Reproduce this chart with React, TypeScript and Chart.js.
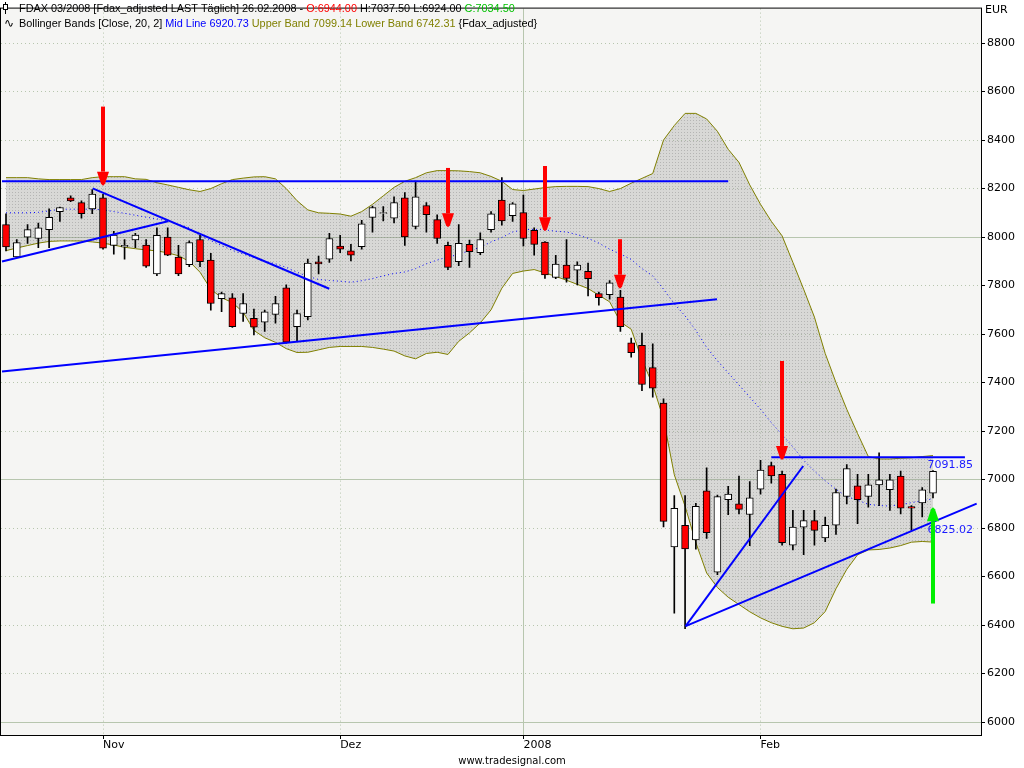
import React, { useEffect, useRef } from 'react';
import Chart from 'chart.js/auto';

// daily FDAX 03/2008 candles, 19.10.2007 .. 26.02.2008 (bar index 0..86)
const opens = [
  8051, 7918, 8000, 7994, 8031, 8105, 8162, 8142, 8116, 8162,
  7966, 7959, 7988, 7967, 7848, 8000, 7918, 7886, 7990, 7905,
  7746, 7749, 7685, 7665, 7649, 7681, 7791, 7631, 7672, 7898,
  7909, 7963, 7943, 7960, 8081, 8097, 8078, 8162, 8044, 8130,
  8072, 7966, 7899, 7970, 7936, 8031, 8153, 8088, 8101, 8028,
  7979, 7834, 7885, 7864, 7859, 7767, 7763, 7753, 7564, 7554,
  7462, 7316, 6722, 6812, 6751, 6954, 6618, 6917, 6900, 6856,
  6961, 7058, 7022, 6730, 6804, 6831, 6760, 6812, 6931, 6974,
  6931, 6978, 6958, 7015, 6889, 6904, 6944,
];
const highs = [
  8096, 7990, 8051, 8058, 8116, 8124, 8170, 8149, 8196, 8176,
  8024, 7990, 8015, 7990, 8038, 8038, 7966, 7984, 8007, 7933,
  7773, 7767, 7767, 7703, 7699, 7756, 7803, 7699, 7909, 7922,
  8015, 8007, 7970, 8069, 8128, 8126, 8166, 8183, 8231, 8142,
  8092, 7979, 8051, 7988, 8017, 8105, 8245, 8142, 8173, 8038,
  7981, 7925, 7990, 7898, 7893, 7773, 7821, 7780, 7584, 7604,
  7560, 7333, 6934, 6934, 6902, 7049, 6936, 6972, 7015, 6992,
  7079, 7072, 7035, 6873, 6873, 6873, 6846, 6961, 7062, 7022,
  7022, 7110, 7022, 7035, 6893, 6967, 7037.5,
];
const lows = [
  7943, 7915, 7974, 7956, 7956, 8065, 8146, 8078, 8096, 7950,
  7929, 7909, 7956, 7875, 7841, 7923, 7841, 7878, 7878, 7699,
  7692, 7627, 7652, 7597, 7611, 7645, 7563, 7570, 7658, 7848,
  7895, 7936, 7902, 7950, 8020, 8067, 8058, 7966, 8034, 8020,
  7974, 7866, 7882, 7875, 7927, 8020, 8049, 8065, 7963, 7925,
  7830, 7828, 7814, 7803, 7757, 7719, 7744, 7611, 7505, 7367,
  7340, 6805, 6449, 6385, 6713, 6758, 6608, 6855, 6859, 6728,
  6940, 6985, 6730, 6710, 6690, 6730, 6744, 6774, 6900, 6818,
  6886, 6893, 6873, 6859, 6791, 6846, 6924,
];
const closes = [
  7959, 7977, 8031, 8038, 8081, 8122, 8149, 8096, 8177, 7954,
  8008, 7966, 8008, 7880, 8007, 7925, 7848, 7977, 7899, 7726,
  7767, 7631, 7726, 7628, 7692, 7726, 7567, 7685, 7893, 7889,
  7994, 7950, 7925, 8055, 8122, 8101, 8142, 8001, 8166, 8092,
  7994, 7875, 7974, 7940, 7990, 8096, 8067, 8137, 7994, 7970,
  7844, 7889, 7830, 7885, 7828, 7750, 7811, 7631, 7523, 7392,
  7377, 6828, 6882, 6714, 6890, 6781, 6930, 6940, 6877, 6925,
  7039, 7015, 6740, 6804, 6831, 6791, 6812, 6947, 7045, 6917,
  6978, 6999, 6999, 6882, 6882, 6958, 7034.5,
];

// Bollinger Bands [Close, 20, 2]
const upperBand = [
  8245, 8245, 8245, 8240, 8237, 8237, 8237, 8237, 8245, 8249,
  8249, 8249, 8240, 8238, 8224, 8215, 8205, 8195, 8188, 8200,
  8220, 8237, 8243, 8248, 8249, 8240, 8200, 8150, 8112, 8100,
  8098, 8095, 8086, 8105, 8135, 8170, 8205, 8230, 8245, 8265,
  8274, 8274, 8273, 8270, 8265, 8250, 8230, 8196, 8192, 8198,
  8204, 8208, 8209, 8209, 8208, 8200, 8188, 8200, 8222, 8242,
  8262, 8400, 8460, 8510, 8510, 8487, 8436, 8362, 8308, 8215,
  8135, 8065, 8005, 7896, 7785, 7670, 7520, 7400, 7290, 7190,
  7095, 7085, 7085, 7088, 7090, 7095, 7099.14,
];
const midLine = [
  8100, 8100, 8100, 8102, 8108, 8115, 8115, 8115, 8115, 8112,
  8105, 8098, 8090, 8082, 8075, 8066, 8052, 8039, 8004, 7985,
  7965, 7945, 7930, 7915, 7900, 7890, 7875, 7855, 7838, 7825,
  7821, 7818, 7814, 7820, 7829, 7840, 7850, 7856, 7870, 7890,
  7905, 7918, 7928, 7945, 7957, 7980, 7998, 8021, 8030, 8032,
  8030, 8024, 8021, 8010, 7995, 7975, 7950, 7930, 7908, 7870,
  7840, 7785, 7725, 7675, 7615, 7545, 7490, 7440, 7390, 7340,
  7290, 7235, 7185, 7135, 7080, 7035, 6995, 6960, 6930, 6915,
  6898, 6893, 6891, 6897, 6905, 6913, 6920.73,
];
const lowerBand = [
  7944, 7955, 7965, 7975, 7982, 7984, 7984, 7984, 7980, 7975,
  7967, 7958, 7952, 7947, 7943, 7935, 7923, 7900, 7855, 7785,
  7750, 7730, 7690, 7615, 7585, 7566, 7540, 7524, 7525, 7535,
  7545, 7549, 7549, 7549, 7545, 7538, 7530, 7510, 7498, 7520,
  7525, 7516, 7570, 7605, 7646, 7700, 7789, 7850, 7860, 7866,
  7852, 7838, 7822, 7805, 7788, 7760, 7733, 7650, 7620, 7495,
  7390, 7250, 7020, 6890, 6740, 6615, 6555, 6515, 6485, 6455,
  6430, 6410, 6395, 6385, 6388, 6410, 6456, 6550, 6630, 6690,
  6710, 6712, 6718, 6728, 6742, 6745, 6742.31,
];

const monthTicks = [9, 31, 48, 70];
const monthLabels = ['Nov', 'Dez', '2008', 'Feb'];
const priceTicks = [6000, 6200, 6400, 6600, 6800, 7000, 7200, 7400, 7600, 7800, 8000, 8200, 8400, 8600, 8800];

// hand drawn trend lines: [bar1, price1, bar2, price2]
const trendLines = [
  [-0.37, 8230, 67.0, 8230],
  [-0.37, 7899, 15.03, 8065],
  [8.04, 8201, 29.99, 7787],
  [-0.37, 7446, 65.96, 7744],
  [71.0, 7091.85, 88.96, 7091.85],
  [63.05, 6396, 73.96, 7056],
  [63.05, 6396, 90.05, 6901],
];
const lineValues = [7091.85, 6825.02];

// arrows: [bar, from price, to price]
const redArrows = [
  [9, 8538, 8212],
  [41, 8285, 8040],
  [50, 8293, 8024],
  [57, 7991, 7787],
  [72, 7489, 7081],
];
const greenArrow = [86, 6489, 6886];

const header1: [string, string][] = [
  ['FDAX 03/2008 [Fdax_adjusted LAST Täglich] 26.02.2008 - ', '#000000'],
  ['O:6944.00', '#ff0000'],
  [' H:7037.50 L:6924.00 ', '#000000'],
  ['C:7034.50', '#00c000'],
];
const header2: [string, string][] = [
  ['Bollinger Bands [Close, 20, 2] ', '#000000'],
  ['Mid Line 6920.73', '#0000ff'],
  [' Upper Band 7099.14 Lower Band 6742.31', '#808000'],
  [' {Fdax_adjusted}', '#000000'],
];

const FONT = '"DejaVu Sans", "Liberation Sans", sans-serif';
const HEAD_FONT = '"Liberation Sans", Arial, sans-serif';

function bandPattern(ctx: CanvasRenderingContext2D) {
  const c = document.createElement('canvas');
  c.width = 3;
  c.height = 3;
  const g = c.getContext('2d')!;
  g.fillStyle = 'rgba(150,150,150,0.30)';
  g.fillRect(0, 0, 3, 3);
  g.fillStyle = 'rgba(100,100,100,0.30)';
  g.fillRect(0, 0, 1, 1);
  return ctx.createPattern(c, 'repeat') || 'rgba(150,150,150,0.3)';
}

function drawArrow(ctx: CanvasRenderingContext2D, x: number, yFrom: number, yTo: number, color: string) {
  const dir = Math.sign(yTo - yFrom);
  const headLen = 14;
  const headW = 6;
  ctx.strokeStyle = color;
  ctx.fillStyle = color;
  ctx.lineWidth = 4;
  ctx.beginPath();
  ctx.moveTo(x, yFrom);
  ctx.lineTo(x, yTo - dir * headLen);
  ctx.stroke();
  ctx.beginPath();
  ctx.moveTo(x - headW, yTo - dir * headLen);
  ctx.lineTo(x + headW, yTo - dir * headLen);
  ctx.lineTo(x + 2, yTo - dir * 2);
  ctx.lineTo(x, yTo);
  ctx.lineTo(x - 2, yTo - dir * 2);
  ctx.closePath();
  ctx.fill();
}

function drawSegments(ctx: CanvasRenderingContext2D, parts: [string, string][], x: number, y: number) {
  let cx = x;
  for (const [text, color] of parts) {
    ctx.fillStyle = color;
    ctx.fillText(text, cx, y);
    cx += ctx.measureText(text).width;
  }
}

const decorPlugin = {
  id: 'decor',
  beforeDraw(chart: any) {
    const { ctx, chartArea: a } = chart;
    ctx.save();
    ctx.fillStyle = '#ffffff';
    ctx.fillRect(0, 0, chart.width, chart.height);
    ctx.fillStyle = '#f5f5f3';
    ctx.fillRect(a.left, a.top, a.right - a.left, a.bottom - a.top);
    ctx.restore();
  },
  afterDatasetsDraw(chart: any) {
    const { ctx } = chart;
    const xs = chart.scales.x;
    const ys = chart.scales.y;
    ctx.save();
    redArrows.forEach(([i, p1, p2]) => {
      drawArrow(ctx, Math.round(xs.getPixelForValue(i)), ys.getPixelForValue(p1), ys.getPixelForValue(p2), '#ff0000');
    });
    ctx.font = `11px ${FONT}`;
    ctx.textAlign = 'right';
    ctx.textBaseline = 'middle';
    ctx.fillStyle = '#1a1aff';
    lineValues.forEach((v) => {
      ctx.fillText(v.toFixed(2), 973, ys.getPixelForValue(v) + 8);
    });
    const [gi, g1, g2] = greenArrow;
    drawArrow(ctx, Math.round(xs.getPixelForValue(gi)), ys.getPixelForValue(g1), ys.getPixelForValue(g2), '#00ee00');
    ctx.restore();
  },
  afterDraw(chart: any) {
    const { ctx, chartArea: a } = chart;
    ctx.save();
    ctx.strokeStyle = '#000000';
    ctx.lineWidth = 1;
    ctx.strokeRect(a.left - 0.5, a.top - 0.5, a.right - a.left + 1, a.bottom - a.top + 1);

    // header
    ctx.font = `11px ${HEAD_FONT}`;
    const w1 = header1.reduce((s, [t]) => s + ctx.measureText(t).width, 0);
    const size = (11 * 496) / w1;
    ctx.font = `${size.toFixed(2)}px ${HEAD_FONT}`;
    ctx.textAlign = 'left';
    ctx.textBaseline = 'alphabetic';
    drawSegments(ctx, header1, 19, 11.5);
    drawSegments(ctx, header2, 19, 26.5);
    ctx.fillStyle = '#000';
    ctx.font = `12px ${FONT}`;
    ctx.fillText('∿', 4, 26.5);
    // candle icon
    ctx.strokeStyle = '#000';
    ctx.beginPath();
    ctx.moveTo(5.5, 2);
    ctx.lineTo(5.5, 14);
    ctx.stroke();
    ctx.fillStyle = '#ffffff';
    ctx.fillRect(3, 5, 5, 5);
    ctx.strokeRect(3.5, 4.5, 4, 5);

    ctx.font = `11px ${FONT}`;
    ctx.fillStyle = '#000';
    ctx.textBaseline = 'middle';
    ctx.fillText('EUR', 985, 10);
    ctx.font = `10px ${FONT}`;
    ctx.textAlign = 'center';
    ctx.fillText('www.tradesignal.com', 512, 761);
    ctx.restore();
  },
};

const App: React.FC = () => {
  const canvasRef = useRef<HTMLCanvasElement>(null);
  const chartRef = useRef<Chart | null>(null);

  useEffect(() => {
    if (!canvasRef.current) return;
    const ctx = canvasRef.current.getContext('2d');
    if (!ctx) return;

    const idx = closes.map((_, i) => i);
    const bodyColors = closes.map((c, i) => (c >= opens[i] ? '#ffffff' : '#ff0000'));
    const gridColor = '#b7c6ae';

    const trendSets = trendLines.map(([x1, y1, x2, y2]) => ({
      type: 'line' as const,
      data: [{ x: x1, y: y1 }, { x: x2, y: y2 }],
      borderColor: '#0000ff',
      borderWidth: 2,
      pointRadius: 0,
      fill: false,
      order: 0,
    }));

    chartRef.current = new Chart(ctx, {
      type: 'bar',
      data: {
        datasets: [
          {
            type: 'line',
            data: idx.map((i) => ({ x: i, y: lowerBand[i] })),
            borderColor: '#808000',
            borderWidth: 1,
            pointRadius: 0,
            fill: false,
            order: 10,
          },
          {
            type: 'line',
            data: idx.map((i) => ({ x: i, y: upperBand[i] })),
            borderColor: '#808000',
            borderWidth: 1,
            pointRadius: 0,
            fill: '-1',
            backgroundColor: bandPattern(ctx),
            order: 10,
          },
          {
            type: 'line',
            data: idx.map((i) => ({ x: i, y: midLine[i] })),
            borderColor: '#0000ff',
            borderWidth: 1,
            borderDash: [1, 3],
            pointRadius: 0,
            fill: false,
            order: 9,
          },
          {
            type: 'bar',
            data: idx.map((i) => ({ x: i, y: [lows[i], highs[i]] })),
            backgroundColor: '#000000',
            barThickness: 1,
            grouped: false,
            order: 3,
          },
          {
            type: 'bar',
            data: idx.map((i) => ({ x: i, y: [opens[i], closes[i]] })),
            backgroundColor: bodyColors,
            borderColor: '#000000',
            borderWidth: 1,
            borderSkipped: false,
            barThickness: 7,
            grouped: false,
            order: 2,
          },
          ...trendSets,
        ] as any,
      },
      options: {
        responsive: false,
        animation: false,
        events: [],
        layout: { padding: { left: 1, top: 1, right: 0, bottom: 0 } },
        plugins: {
          legend: { display: false },
          tooltip: { enabled: false },
        },
        elements: { line: { tension: 0 } },
        scales: {
          x: {
            type: 'linear',
            position: 'bottom',
            min: -0.464,
            max: 90.453,
            offset: false,
            afterBuildTicks: (scale: any) => {
              scale.ticks = monthTicks.map((v) => ({ value: v }));
            },
            afterFit: (scale: any) => {
              scale.height = 33;
            },
            ticks: {
              autoSkip: false,
              maxRotation: 0,
              align: 'start',
              padding: 0,
              color: '#000000',
              font: { family: FONT, size: 11 },
              callback: (v: any) => monthLabels[monthTicks.indexOf(Number(v))] ?? '',
            },
            grid: {
              offset: false,
              color: gridColor,
              lineWidth: 1,
              tickLength: 4,
              tickColor: '#000000',
            },
            border: {
              display: false,
              dash: (c: any) => (c.tick && c.tick.value === 48 ? [] : [1, 3]),
            },
          },
          y: {
            type: 'linear',
            position: 'right',
            min: 5947,
            max: 8942,
            afterBuildTicks: (scale: any) => {
              scale.ticks = priceTicks.map((v) => ({ value: v }));
            },
            afterFit: (scale: any) => {
              scale.width = 43;
            },
            ticks: {
              padding: 2,
              color: '#000000',
              font: { family: FONT, size: 11 },
              callback: (v: any) => String(v),
            },
            grid: {
              offset: false,
              color: gridColor,
              lineWidth: 1,
              tickLength: 4,
              tickColor: '#000000',
            },
            border: {
              display: false,
              dash: (c: any) => (c.tick && c.tick.value % 1000 === 0 ? [] : [1, 3]),
            },
          },
        },
      } as any,
      plugins: [decorPlugin],
    });

    return () => {
      chartRef.current?.destroy();
      chartRef.current = null;
    };
  }, []);

  return (
    <div style={{ position: 'absolute', left: 0, top: 0, width: 1024, height: 768, background: '#fff' }}>
      <canvas ref={canvasRef} width={1024} height={768} />
    </div>
  );
};

export default App;
